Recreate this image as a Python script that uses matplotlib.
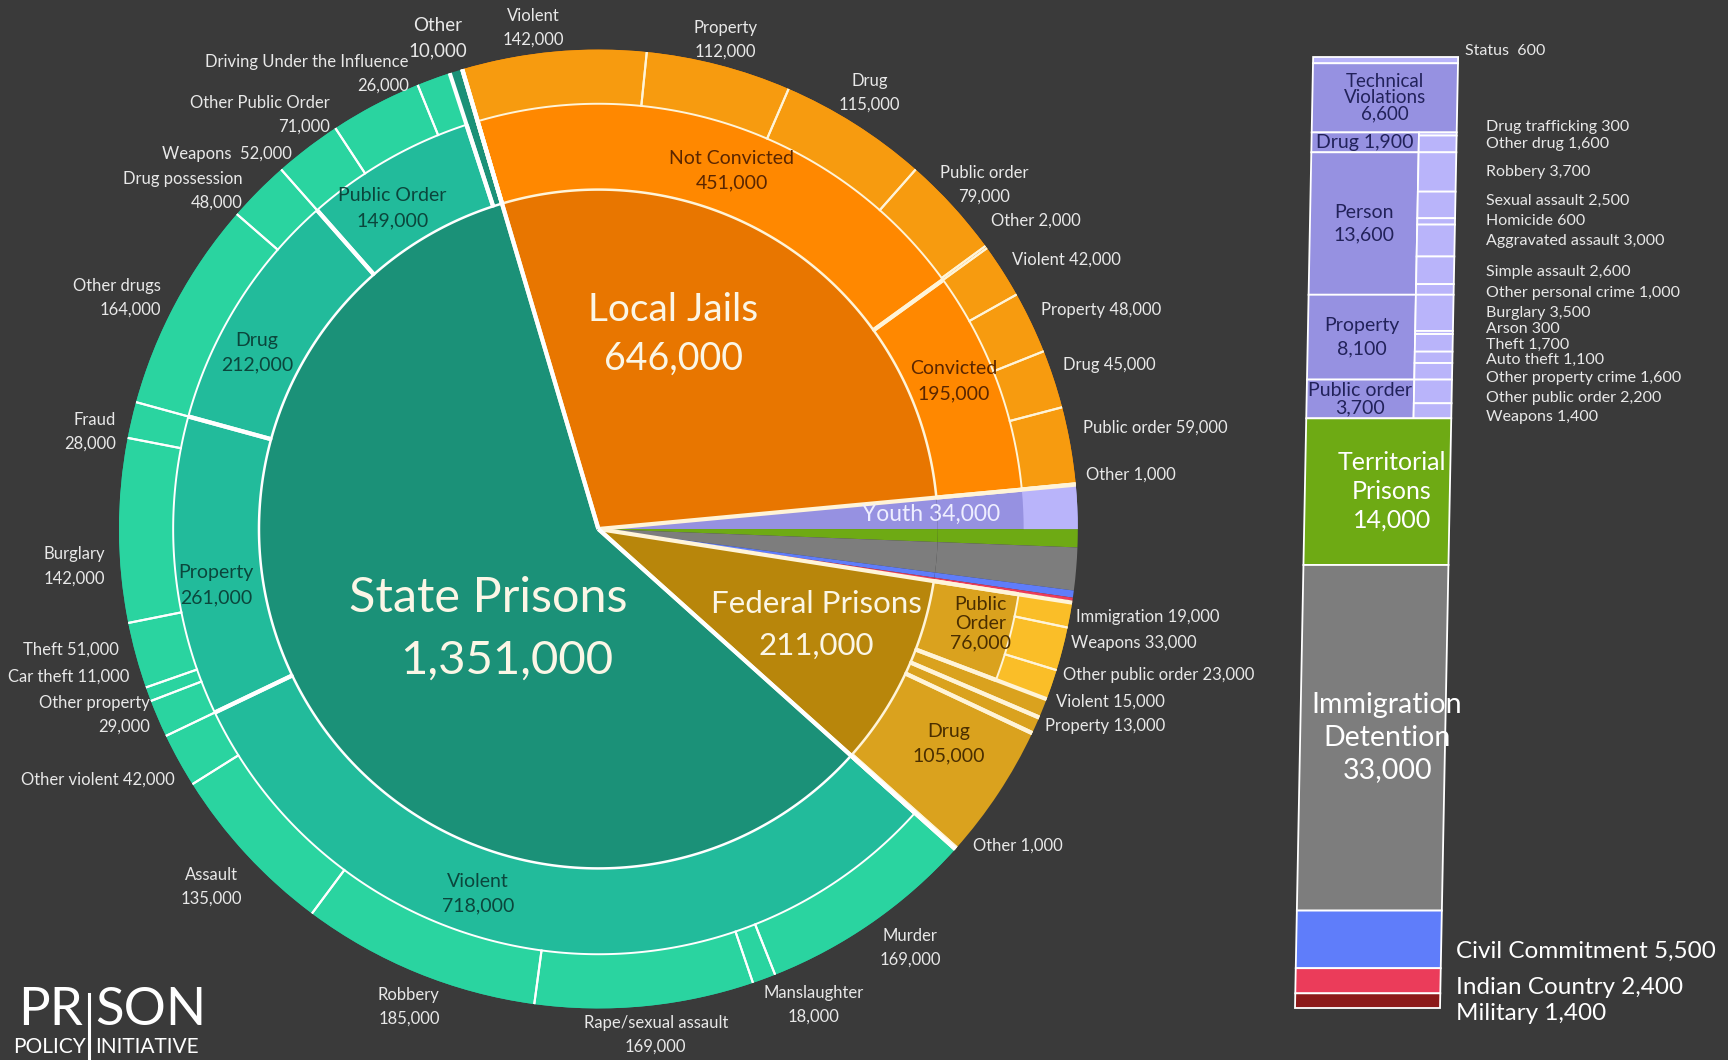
import numpy as np
import matplotlib.pyplot as plt
from matplotlib.transforms import Affine2D
from matplotlib.lines import Line2D

plt.rcParams['font.family'] = ['Lato', 'DejaVu Sans']

# ---------------- data ----------------
# top level slices, clockwise from the top of the pie
groups = ['Local Jails', 'Youth', 'Territorial Prisons', 'Immigration Detention',
          'Civil Commitment', 'Indian Country', 'Military', 'Federal Prisons', 'State Prisons']
group_vals = [646000, 34000, 14000, 33000, 5500, 2400, 1400, 211000, 1351000]

jail_mid = ['Not Convicted', 'Convicted']
jail_mid_vals = [451000, 195000]
jail_offenses = ['Violent', 'Property', 'Drug', 'Public order', 'Other']
jail_nc_vals = [142000, 112000, 115000, 79000, 2000]
jail_c_vals = [42000, 48000, 45000, 59000, 1000]

fed_mid = ['Public Order', 'Violent', 'Property', 'Drug', 'Other']
fed_mid_vals = [76000, 15000, 13000, 105000, 1000]
fed_po = ['Immigration', 'Weapons', 'Other public order']
fed_po_vals = [19000, 33000, 23000]

state_mid = ['Violent', 'Property', 'Drug', 'Public Order', 'Other']
state_mid_vals = [718000, 261000, 212000, 149000, 10000]
state_violent = ['Murder', 'Manslaughter', 'Rape/sexual assault', 'Robbery', 'Assault', 'Other violent']
state_violent_vals = [169000, 18000, 169000, 185000, 135000, 42000]
state_property = ['Other property', 'Car theft', 'Theft', 'Burglary', 'Fraud']
state_property_vals = [29000, 11000, 51000, 142000, 28000]
state_drug = ['Other drugs', 'Drug possession']
state_drug_vals = [164000, 48000]
state_public = ['Weapons', 'Other Public Order', 'Driving Under the Influence']
state_public_vals = [52000, 71000, 26000]

youth_main = ['Status', 'Technical Violations', 'Drug', 'Person', 'Property', 'Public order']
youth_main_vals = [600, 6600, 1900, 13600, 8100, 3700]
youth_drug = ['Drug trafficking', 'Other drug']
youth_drug_vals = [300, 1600]
youth_person = ['Robbery', 'Sexual assault', 'Homicide', 'Aggravated assault',
                'Simple assault', 'Other personal crime']
youth_person_vals = [3700, 2500, 600, 3000, 2600, 1000]
youth_property = ['Burglary', 'Arson', 'Theft', 'Auto theft', 'Other property crime']
youth_property_vals = [3500, 300, 1700, 1100, 1600]
youth_public = ['Other public order', 'Weapons']
youth_public_vals = [2200, 1400]

# ---------------- style ----------------
BG = '#3a3a3a'
TXT = '#e8e8e8'
CREAM = '#fff4d8'
STATE = ('#1b9178', '#22bb9b', '#2ad4a0')
JAIL = ('#e87600', '#ff8800', '#f79b0f')
FED = ('#b8860b', '#daa21e', '#fabe28')
YOUTH, YOUTH_LIGHT = '#9691e1', '#b9b4fa'
SMALL = {'Youth': YOUTH, 'Territorial Prisons': '#6eaa14', 'Immigration Detention': '#7d7d7d',
         'Civil Commitment': '#5f7dfa', 'Indian Country': '#eb3c5a', 'Military': '#8c1919'}
R_IN, R_MID = 0.708, 0.887
START = 106.5
W, H = 1728, 1060


def fit(vals, total):
    vals = np.asarray(vals, dtype=float)
    return vals * total / vals.sum()


fig = plt.figure(figsize=(W / 100, H / 100), dpi=100, facecolor=BG)


def ftext(sx, sy, s, **kw):
    # position given in the 1568x962 preview pixel grid
    kw.setdefault('va', 'center')
    fig.text(sx / 1568, 1 - sy / 962, s, **kw)


# ---------------- build the rings ----------------
inner_cols, inner_line = [], []
mid_vals, mid_cols, mid_span, mid_line = [], [], [], []
out_vals, out_cols, out_show = [], [], []

state_children = {'Violent': state_violent_vals, 'Property': state_property_vals,
                  'Drug': state_drug_vals, 'Public Order': state_public_vals}

for g, gv in zip(groups, group_vals):
    if g == 'Local Jails':
        inner_cols.append(JAIL[0]); inner_line.append(CREAM)
        for v, kids in zip(fit(jail_mid_vals, gv), [jail_nc_vals, jail_c_vals]):
            mid_vals.append(v); mid_cols.append(JAIL[1]); mid_span.append(False); mid_line.append(CREAM)
            for kv in fit(kids, v):
                out_vals.append(kv); out_cols.append(JAIL[2]); out_show.append(True)
    elif g == 'Federal Prisons':
        inner_cols.append(FED[0]); inner_line.append(CREAM)
        for n, v in zip(fed_mid, fit(fed_mid_vals, gv)):
            if n == 'Public Order':
                mid_vals.append(v); mid_cols.append(FED[1]); mid_span.append(False); mid_line.append(CREAM)
                for kv in fit(fed_po_vals, v):
                    out_vals.append(kv); out_cols.append(FED[2]); out_show.append(True)
            else:
                mid_vals.append(v); mid_cols.append(FED[1]); mid_span.append(True); mid_line.append(CREAM)
                out_vals.append(v); out_cols.append(FED[2]); out_show.append(False)
    elif g == 'State Prisons':
        inner_cols.append(STATE[0]); inner_line.append('white')
        for n, v in zip(state_mid, fit(state_mid_vals, gv)):
            if n in state_children:
                mid_vals.append(v); mid_cols.append(STATE[1]); mid_span.append(False); mid_line.append('white')
                for kv in fit(state_children[n], v):
                    out_vals.append(kv); out_cols.append(STATE[2]); out_show.append(True)
            else:
                mid_vals.append(v); mid_cols.append(STATE[0]); mid_span.append(True); mid_line.append('white')
                out_vals.append(v); out_cols.append(STATE[2]); out_show.append(False)
    else:
        inner_cols.append(SMALL[g]); inner_line.append(None)
        mid_vals.append(gv); mid_cols.append(SMALL[g]); mid_span.append(True); mid_line.append(None)
        out_vals.append(gv); out_cols.append(YOUTH_LIGHT); out_show.append(g == 'Youth')

# ---------------- pie ----------------
R_PX = 479.4
ax = fig.add_axes([(598.4 - R_PX) / W, (H - 529 - R_PX) / H, 2 * R_PX / W, 2 * R_PX / H])
w_in, _ = ax.pie(group_vals, radius=R_IN, colors=inner_cols, startangle=START,
                 counterclock=False, wedgeprops=dict(linewidth=0))
w_mid, _ = ax.pie(mid_vals, radius=1, colors=mid_cols, startangle=START,
                  counterclock=False, wedgeprops=dict(width=1 - R_IN, linewidth=0))
w_out, _ = ax.pie(out_vals, radius=1, colors=out_cols, startangle=START,
                  counterclock=False, wedgeprops=dict(width=1 - R_MID, linewidth=0))
for w, show in zip(w_out, out_show):
    w.set_visible(show)


def radial(theta, r0, r1, lw, color):
    t = np.deg2rad(theta)
    ax.plot([r0 * np.cos(t), r1 * np.cos(t)], [r0 * np.sin(t), r1 * np.sin(t)],
            color=color, lw=lw, solid_capstyle='butt', zorder=3)


def arc(t1, t2, r, lw, color):
    t = np.deg2rad(np.linspace(t1, t2, 120))
    ax.plot(r * np.cos(t), r * np.sin(t), color=color, lw=lw, zorder=3)


# separators: thin in the outer ring, thick between middle-ring groups
for w, show, c in zip(w_out, out_show, out_cols):
    if show and c != YOUTH_LIGHT:
        lc = 'white' if c == STATE[2] else CREAM
        radial(w.theta1, R_MID, 1, 1.5, lc)
        radial(w.theta2, R_MID, 1, 1.5, lc)
        arc(w.theta1, w.theta2, R_MID, 1.4, lc)
for w, span, lc in zip(w_mid, mid_span, mid_line):
    if lc:
        r1 = 1 if span else R_MID
        radial(w.theta1, R_IN, r1, 3.0, lc)
        radial(w.theta2, R_IN, r1, 3.0, lc)
        arc(w.theta1, w.theta2, R_IN, 1.8, lc)
for w, lc in zip(w_in, inner_line):
    if lc:
        radial(w.theta1, 0, 1, 3.0, lc)
        radial(w.theta2, 0, 1, 3.0, lc)

ax.set_xlim(-1, 1)
ax.set_ylim(-1, 1)
ax.set_aspect('equal')
ax.axis('off')

# ---------------- pie labels ----------------
OUT_FS = 12
state_pos = {
    'Murder': (826, 860, 'center', True), 'Manslaughter': (738, 912, 'center', True),
    'Rape/sexual assault': (595, 939, 'center', True), 'Robbery': (371, 914, 'center', True),
    'Assault': (192, 805, 'center', True), 'Other violent': (159, 708, 'right', False),
    'Other property': (136, 649, 'right', True), 'Car theft': (117, 614, 'right', False),
    'Theft': (108, 590, 'right', False), 'Burglary': (95, 514, 'right', True),
    'Fraud': (105, 392, 'right', True), 'Other drugs': (146, 270, 'right', True),
    'Drug possession': (220, 173, 'right', True), 'Weapons': (265, 140, 'right', False),
    'Other Public Order': (299, 104, 'right', True),
    'Driving Under the Influence': (371, 67, 'right', True), 'Other': (397, 35, 'center', True),
}
jail_nc_pos = [(484, 25, 'center', True), (658, 36, 'center', True), (789, 84, 'center', True),
               (893, 168, 'center', True), (899, 200, 'left', False)]
jail_c_pos = [(918, 236, 'left', False), (945, 281, 'left', False), (965, 331, 'left', False),
              (983, 388, 'left', False), (985, 431, 'left', False)]
fed_pos = {'Immigration': (976, 560), 'Weapons': (972, 584), 'Other public order': (965, 613),
           'Violent': (958, 637), 'Property': (948, 659), 'Other': (883, 767)}


def outer_label(name, val, pos, sep=' ', fs=OUT_FS):
    x, y, ha, two = pos
    s = f'{name}\n{val:,}' if two else f'{name}{sep}{val:,}'
    ftext(x, y, s, ha=ha, multialignment=ha, color=TXT, fontsize=fs, linespacing=1.6)


state_outer = list(zip(state_violent, state_violent_vals)) + list(zip(state_property, state_property_vals)) \
    + list(zip(state_drug, state_drug_vals)) + list(zip(state_public, state_public_vals)) \
    + [('Other', state_mid_vals[-1])]
for n, v in state_outer:
    outer_label(n, v, state_pos[n], sep='  ' if n == 'Weapons' else ' ',
                fs=13.5 if (n == 'Other') else OUT_FS)
for n, v, p in zip(jail_offenses, jail_nc_vals, jail_nc_pos):
    outer_label(n, v, p)
for n, v, p in zip(jail_offenses, jail_c_vals, jail_c_pos):
    outer_label(n, v, p)
for n, v in list(zip(fed_po, fed_po_vals)) + list(zip(fed_mid[1:], fed_mid_vals[1:])):
    if n in fed_pos:
        outer_label(n, v, fed_pos[n] + ('left', False))

# middle ring labels
MID_FS = 14
state_mid_pos = {'Violent': (434, 811), 'Property': (196, 531), 'Drug': (233, 320), 'Public Order': (356, 189)}
for n, v in zip(state_mid, state_mid_vals):
    if n in state_mid_pos:
        ftext(*state_mid_pos[n], f'{n}\n{v:,}', ha='center', color='#0b463c', fontsize=MID_FS, linespacing=1.55)
jail_mid_pos = {'Not Convicted': (664, 155), 'Convicted': (865, 346)}
for n, v in zip(jail_mid, jail_mid_vals):
    ftext(*jail_mid_pos[n], f'{n}\n{v:,}', ha='center', color='#5a2600', fontsize=MID_FS, linespacing=1.55)
ftext(890, 566, f'Public\nOrder\n{fed_mid_vals[0]:,}', ha='center', color='#4a2e00', fontsize=MID_FS,
      linespacing=1.15)
ftext(861, 675, f'Drug\n{fed_mid_vals[3]:,}', ha='center', color='#4a2e00', fontsize=MID_FS, linespacing=1.55)

# inner labels
BIG = '#fbf6e6'
ftext(611, 281, groups[0], ha='center', color=BIG, fontsize=28)
ftext(611, 326, f'{group_vals[0]:,}', ha='center', color=BIG, fontsize=27)
ftext(443, 543, groups[8], ha='center', color=BIG, fontsize=35)
ftext(460, 600, f'{group_vals[8]:,}', ha='center', color=BIG, fontsize=34)
ftext(741, 548, groups[7], ha='center', color=BIG, fontsize=22.5)
ftext(741, 586, f'{group_vals[7]:,}', ha='center', color=BIG, fontsize=22.5)
ftext(845, 467, f'{groups[1]} {group_vals[1]:,}', ha='center', color='#eeeeff', fontsize=16.5)

# ---------------- right-hand bar ----------------
bx = fig.add_axes([1295 / W, 52 / H, 145 / W, 951 / H])
tr = bx.transScale + bx.transLimits + Affine2D().skew(np.arctan(0.125), 0) + bx.transAxes
SPLIT = 0.74
NAVY = '#22225a'
youth_children = {'Drug': (youth_drug, youth_drug_vals), 'Person': (youth_person, youth_person_vals),
                  'Property': (youth_property, youth_property_vals),
                  'Public order': (youth_public, youth_public_vals)}


def cell(x, w, y, h, color):
    bx.bar(x, h, width=w, bottom=y, align='edge', color=color, edgecolor='white',
           linewidth=1.3, transform=tr, clip_on=False)


side_labels = []
y = 0
for n, v in zip(youth_main, youth_main_vals):
    if n in youth_children:
        cell(0, SPLIT, y, v, YOUTH)
        names, vals = youth_children[n]
        yy = y
        for sn, sv, raw in zip(names, fit(vals, v), vals):
            cell(SPLIT, 1 - SPLIT, yy, sv, YOUTH_LIGHT)
            side_labels.append((f'{sn} {raw:,}', yy + sv / 2))
            yy += sv
        if n == 'Drug':
            bx.text(SPLIT / 2, y + v / 2, f'{n} {v:,}', transform=tr, ha='center', va='center',
                    color=NAVY, fontsize=14)
        else:
            bx.text(SPLIT / 2, y + v / 2, f'{n}\n{v:,}', transform=tr, ha='center', va='center',
                    color=NAVY, fontsize=14, linespacing=1.4 if n != 'Public order' else 1.0)
    elif n == 'Status':
        cell(0, 1, y, v, YOUTH_LIGHT)
        side_labels.append((f'{n}  {v:,}', y + v / 2))
    else:
        cell(0, 1, y, v, YOUTH)
        bx.text(0.5, y + v / 2, 'Technical\nViolations\n' + f'{v:,}', transform=tr, ha='center',
                va='center', color=NAVY, fontsize=13.5, linespacing=0.95)
    y += v

big_labels = []
for g, gv in zip(groups[2:7], group_vals[2:7]):
    cell(0, 1, y, gv, SMALL[g])
    if gv > 10000:
        bx.text(0.6, y + gv / 2, g.replace(' ', '\n') + f'\n{gv:,}', transform=tr, ha='center',
                va='center', color='white', fontsize=18 if gv < 20000 else 20.5, linespacing=1.3)
    else:
        big_labels.append((f'{g} {gv:,}', y + gv / 2))
    y += gv

bx.set_xlim(0, 1)
bx.set_ylim(y, 0)
bx.axis('off')

nudge = {'Status': -900, 'Drug trafficking': -650, 'Sexual assault': -350, 'Arson': -300,
         'Other property crime': 600, 'Other public order': 600, 'Weapons': 600,
         'Other personal crime': 300, 'Simple assault': 200, 'Theft': 200, 'Auto theft': 250,
         'Civil Commitment': 1100, 'Indian Country': 600, 'Military': 1200}
for s, yc in side_labels:
    key = s.rsplit(' ', 1)[0].strip()
    x = 1.17 if key == 'Status' else 1.32
    bx.text(x, yc + nudge.get(key, 0), s, ha='left', va='center', color=TXT, fontsize=11.5, clip_on=False)
for s, yc in big_labels:
    key = s.rsplit(' ', 1)[0]
    bx.text(1.11, yc + nudge.get(key, 0), s, ha='left', va='center', color='white', fontsize=17.5,
            clip_on=False)

# ---------------- logo ----------------
ftext(75, 917, 'PR', ha='right', color='white', fontsize=38)
ftext(86, 917, 'SON', ha='left', color='white', fontsize=38)
ftext(78, 950, 'POLICY', ha='right', color='white', fontsize=15)
ftext(86, 950, 'INITIATIVE', ha='left', color='white', fontsize=15)
fig.add_artist(Line2D([81 / 1568] * 2, [1 - 902 / 962, 1 - 962 / 962], color='white', lw=2.2))

fig.savefig('out.png', dpi=100, facecolor=BG)
